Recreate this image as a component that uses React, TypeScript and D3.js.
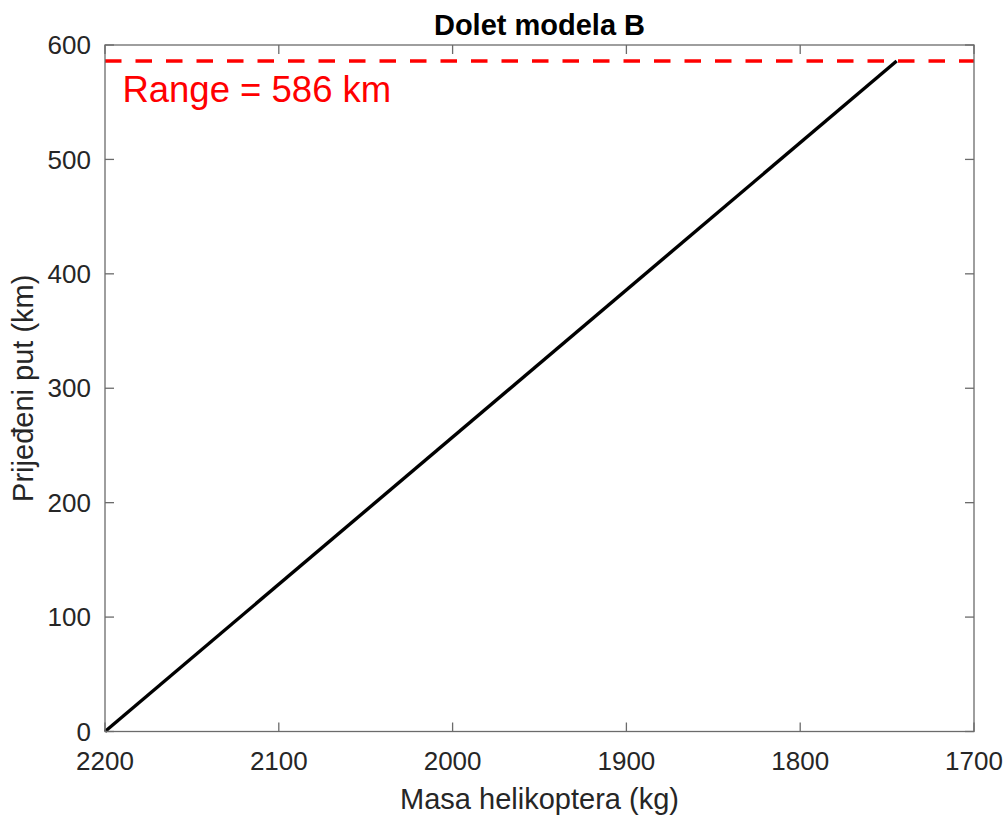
import React from "react";
import * as d3 from "d3";

const massKg: number[] = [2200, 1744.5];
const distanceKm: number[] = [0, 586];
const rangeKm = 586;
const xTicks: number[] = [2200, 2100, 2000, 1900, 1800, 1700];
const yTicks: number[] = [0, 100, 200, 300, 400, 500, 600];
const titleText = "Dolet modela B";
const xLabelText = "Masa helikoptera (kg)";
const yLabelText = "Prijeđeni put (km)";
const rangeLabel = `Range = ${rangeKm} km`;

const W = 1006;
const H = 816;
const L = 105;
const R = 974;
const T = 45;
const B = 731.5;
const FONT = "'Liberation Sans', Arial, Helvetica, sans-serif";
const AX = "#262626";

export default function App() {
  const x = d3.scaleLinear().domain([2200, 1700]).range([L, R]);
  const y = d3.scaleLinear().domain([0, 600]).range([B, T]);
  const pts = massKg.map((m, i) => [m, distanceKm[i]] as [number, number]);
  const line = d3
    .line<[number, number]>()
    .x((d) => x(d[0]))
    .y((d) => y(d[1]));
  const tl = 9;
  return (
    <svg
      width={W}
      height={H}
      style={{ position: "absolute", left: 0, top: 0, background: "#fff" }}
      fontFamily={FONT}
    >
      <rect x={0} y={0} width={W} height={H} fill="#fff" />
      {/* data line */}
      <path d={line(pts) || ""} fill="none" stroke="#000" strokeWidth={3.4} />
      {/* range line */}
      <line
        x1={x(2200)}
        x2={x(1700)}
        y1={y(rangeKm)}
        y2={y(rangeKm)}
        stroke="#ff0000"
        strokeWidth={3.4}
        strokeDasharray="16.5 14"
      />
      <text x={x(2190)} y={y(550)} fill="#ff0000" fontSize={36.5}>
        {rangeLabel}
      </text>
      {/* box */}
      <rect
        x={L}
        y={T}
        width={R - L}
        height={B - T}
        fill="none"
        stroke="#6b6b6b"
        strokeWidth={1.3}
      />
      {/* x ticks */}
      {xTicks.map((t) => (
        <g key={"x" + t}>
          <line x1={x(t)} x2={x(t)} y1={B} y2={B - tl} stroke="#6b6b6b" strokeWidth={1.3} />
          <line x1={x(t)} x2={x(t)} y1={T} y2={T + tl} stroke="#6b6b6b" strokeWidth={1.3} />
          <text x={x(t)} y={770} textAnchor="middle" fontSize={26} fill={AX}>
            {t}
          </text>
        </g>
      ))}
      {/* y ticks */}
      {yTicks.map((t) => (
        <g key={"y" + t}>
          <line x1={L} x2={L + tl} y1={y(t)} y2={y(t)} stroke="#6b6b6b" strokeWidth={1.3} />
          <line x1={R} x2={R - tl} y1={y(t)} y2={y(t)} stroke="#6b6b6b" strokeWidth={1.3} />
          <text
            x={91}
            y={y(t)}
            dy="0.35em"
            textAnchor="end"
            fontSize={26}
            fill={AX}
          >
            {t}
          </text>
        </g>
      ))}
      <text
        x={(L + R) / 2}
        y={35}
        textAnchor="middle"
        fontSize={29}
        fontWeight="bold"
        fill="#000"
      >
        {titleText}
      </text>
      <text x={(L + R) / 2} y={809} textAnchor="middle" fontSize={29} fill={AX}>
        {xLabelText}
      </text>
      <text
        transform={`translate(33,${(T + B) / 2}) rotate(-90)`}
        textAnchor="middle"
        fontSize={29}
        fill={AX}
      >
        {yLabelText}
      </text>
    </svg>
  );
}
